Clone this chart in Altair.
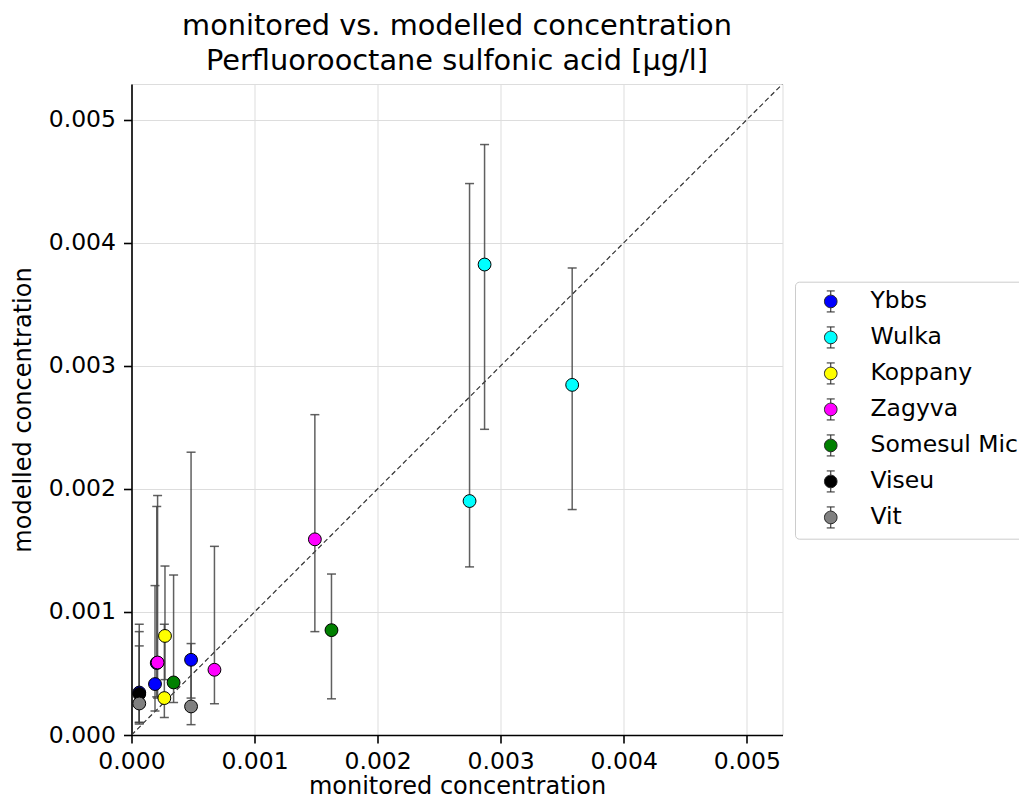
import altair as alt
import pandas as pd

rivers = ["Ybbs", "Ybbs", "Ybbs", "Ybbs",
          "Wulka", "Wulka", "Wulka",
          "Koppany", "Koppany",
          "Zagyva", "Zagyva", "Zagyva",
          "Somesul Mic", "Somesul Mic",
          "Viseu",
          "Vit", "Vit"]
monitored = [0.000191, 0.000205, 0.000484, 0.000063,
             0.002747, 0.002869, 0.003581,
             0.000272, 0.000267,
             0.000212, 0.000674, 0.001490,
             0.000342, 0.001625,
             0.000063,
             0.000063, 0.000484]
modelled = [0.000414, 0.000585, 0.000611, 0.000345,
            0.001901, 0.003823, 0.002845,
            0.000805, 0.000300,
            0.000589, 0.000530, 0.001590,
            0.000427, 0.000852,
            0.000333,
            0.000256, 0.000232]
modelled_low = [0.000195, 0.000310, 0.000300, 0.000102,
                0.001366, 0.002484, 0.001832,
                0.000450, 0.000143,
                0.000300, 0.000254, 0.000840,
                0.000264, 0.000294,
                0.000089,
                0.000102, 0.000084]
modelled_high = [0.001214, 0.001857, 0.002298, 0.000724,
                 0.004481, 0.004798, 0.003795,
                 0.001373, 0.000900,
                 0.001946, 0.001533, 0.002603,
                 0.001300, 0.001308,
                 0.000900,
                 0.000840, 0.000743]

legend_order = ["Ybbs", "Wulka", "Koppany", "Zagyva", "Somesul Mic", "Viseu", "Vit"]
legend_colors = ["#0000ff", "#00ffff", "#ffff00", "#ff00ff", "#008000", "#000000", "#808080"]
tick_values = [0.0, 0.001, 0.002, 0.003, 0.004, 0.005]
axis_max = 0.00529

df = pd.DataFrame({"river": rivers, "monitored": monitored, "modelled": modelled,
                   "lo": modelled_low, "hi": modelled_high})
df["idx"] = range(len(df))
caps = pd.concat([
    pd.DataFrame({"monitored": monitored, "val": modelled_low}),
    pd.DataFrame({"monitored": monitored, "val": modelled_high}),
])
diag = pd.DataFrame({"a": [0.0, axis_max], "b": [0.0, axis_max]})

FONT = "DejaVu Sans"
xscale = alt.Scale(domain=[0, axis_max], nice=False, zero=False)
yscale = alt.Scale(domain=[0, axis_max], nice=False, zero=False)

common = dict(values=tick_values, format=".3f",
              labelFontSize=23.5, titleFontSize=24, titleFontWeight="normal",
              labelColor="black", titleColor="black", tickColor="black",
              domainColor="black", domainWidth=1.6, tickWidth=1.6, tickSize=8,
              gridColor="#dddddd", gridWidth=1, labelFlush=False,
              labelOverlap=False, labelFont=FONT, titleFont=FONT)
xaxis = alt.Axis(title="monitored concentration", labelPadding=6, titlePadding=2, **common)
yaxis = alt.Axis(title="modelled concentration", labelPadding=8, titlePadding=13, **common)

diagonal = alt.Chart(diag).mark_line(
    strokeDash=[5, 3], color="#333333", strokeWidth=1.2, clip=True
).encode(
    x=alt.X("a:Q", scale=xscale, axis=xaxis),
    y=alt.Y("b:Q", scale=yscale, axis=yaxis),
)

bars = alt.Chart(df).mark_rule(color="#444444", strokeWidth=1.5, opacity=0.85).encode(
    x=alt.X("monitored:Q", scale=xscale),
    y=alt.Y("lo:Q", scale=yscale),
    y2="hi:Q",
)

capmarks = alt.Chart(caps).mark_tick(orient="horizontal", size=9, thickness=1.5,
                                     color="#444444", opacity=0.85).encode(
    x=alt.X("monitored:Q", scale=xscale),
    y=alt.Y("val:Q", scale=yscale),
)

legend_shape = ("M0,-1L0,-0.6M0,0.6L0,1M-0.38,-1L0.38,-1M-0.38,1L0.38,1"
                "M0.6,0A0.6,0.6,0,1,1,-0.6,0A0.6,0.6,0,1,1,0.6,0Z")

points = alt.Chart(df).mark_point(filled=True, size=165, stroke="black",
                                  strokeWidth=1, opacity=1).encode(
    x=alt.X("monitored:Q", scale=xscale),
    y=alt.Y("modelled:Q", scale=yscale),
    fill=alt.Fill("river:N", scale=alt.Scale(domain=legend_order, range=legend_colors),
                  legend=alt.Legend(
                      title=None, orient="none", legendX=663.5, legendY=197.7,
                      symbolType=legend_shape, symbolSize=441,
                      symbolStrokeColor="#222222", symbolStrokeWidth=1,
                      symbolOpacity=1, labelFontSize=23.5, labelFont=FONT,
                      labelColor="black", rowPadding=10, padding=8,
                      symbolOffset=16, labelOffset=28,
                      fillColor="white", strokeColor="#cccccc", cornerRadius=4,
                  )),
    order=alt.Order("idx:Q"),
)

chart = alt.layer(diagonal, bars, capmarks, points).properties(
    width=651, height=651,
    title=alt.TitleParams(
        text=["monitored vs. modelled concentration",
              " Perfluorooctane sulfonic acid [µg/l]"],
        fontSize=28.8, font=FONT, fontWeight="normal", color="black",
        anchor="middle", lineHeight=35, offset=8,
    ),
    autosize=alt.AutoSizeParams(type="none"),
    padding={"left": 123.5, "top": 76, "right": 236.5, "bottom": 64},
).configure_view(
    stroke="black", strokeWidth=1.6
).configure(
    font=FONT
)

chart.save("out.html", embed_options={"renderer": "svg", "actions": False})
